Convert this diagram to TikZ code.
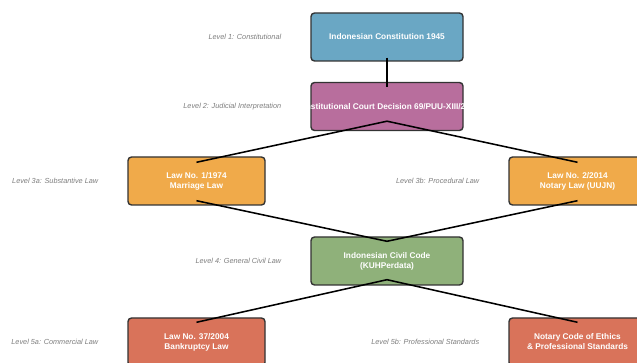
\documentclass[tikz,border=0pt]{standalone}
\usepackage{fontspec}
\setmainfont{Liberation Sans}
\usepackage{tikz}
\usetikzlibrary{positioning}

\definecolor{constblue}{RGB}{106,167,196}
\definecolor{courtpink}{RGB}{184,110,157}
\definecolor{laworange}{RGB}{240,170,74}
\definecolor{civilgreen}{RGB}{143,177,122}
\definecolor{commcoral}{RGB}{217,115,90}
\definecolor{boxedge}{RGB}{51,51,51}
\definecolor{lvlgray}{RGB}{125,125,125}

\begin{document}
\begin{tikzpicture}[
            lawbox/.style = {draw = boxedge, line width = 1pt, rounded corners = 2.5pt,
                minimum width = 3.8cm, minimum height = 1.2cm, text = white,
                align = center, font = \bfseries\fontsize{5.9}{7.1}\selectfont}, % main boxes
            sidebox/.style = {lawbox, minimum width = 3.425cm}, % narrower boxes
            levellabel/.style = {text = lvlgray, font = \itshape\fontsize{5.2}{6}\selectfont,
                inner xsep = 0pt, left = 0.72cm of #1}, % level captions
            link/.style = {line width = 1.1pt, black} % connector style
        ]

        \clip (0,0) rectangle (15.925,-9.075);

        \node[lawbox, fill = constblue] (const) at (9.675,-0.925) {Indonesian Constitution 1945};
        \node[lawbox, fill = courtpink] (court) at (9.675,-2.6625)
            {\makebox[0pt]{Constitutional Court Decision 69/PUU-XIII/2015}};
        \node[sidebox, fill = laworange] (marriage) at (4.9125,-4.525) {Law No. 1/1974\\Marriage Law};
        \node[sidebox, fill = laworange] (notary) at (14.4375,-4.525) {Law No. 2/2014\\Notary Law (UUJN)};
        \node[lawbox, fill = civilgreen] (civil) at (9.675,-6.525) {Indonesian Civil Code\\(KUHPerdata)};
        \node[sidebox, fill = commcoral] (bankrupt) at (4.9125,-8.55) {Law No. 37/2004\\Bankruptcy Law};
        \node[sidebox, fill = commcoral] (ethics) at (14.4375,-8.55)
            {Notary Code of Ethics\\\& Professional Standards};

        % level captions
        \node[levellabel = const] (lvlone) {Level 1: Constitutional};
        \node[levellabel = court] (lvltwo) {Level 2: Judicial Interpretation};
        \node[levellabel = marriage] (lvlthreea) {Level 3a: Substantive Law};
        \node[levellabel = notary] (lvlthreeb) {Level 3b: Procedural Law};
        \node[levellabel = civil] (lvlfour) {Level 4: General Civil Law};
        \node[levellabel = bankrupt] (lvlfivea) {Level 5a: Commercial Law};
        \node[levellabel = ethics] (lvlfiveb) {Level 5b: Professional Standards};

        \draw[link] ([yshift = 0.1cm]const.south) -- ([yshift = -0.125cm]court.north);
        \draw[link] ([yshift = 0.25cm]court.south) -- ([yshift = -0.15cm]marriage.north);
        \draw[link] ([yshift = 0.25cm]court.south) -- ([yshift = -0.15cm]notary.north);
        \draw[link] ([yshift = 0.125cm]marriage.south) -- ([yshift = -0.125cm]civil.north);
        \draw[link] ([yshift = 0.125cm]notary.south) -- ([yshift = -0.125cm]civil.north);
        \draw[link] ([yshift = 0.15cm]civil.south) -- ([yshift = -0.125cm]bankrupt.north);
        \draw[link] ([yshift = 0.15cm]civil.south) -- ([yshift = -0.125cm]ethics.north);

  \end{tikzpicture}
\end{document}
